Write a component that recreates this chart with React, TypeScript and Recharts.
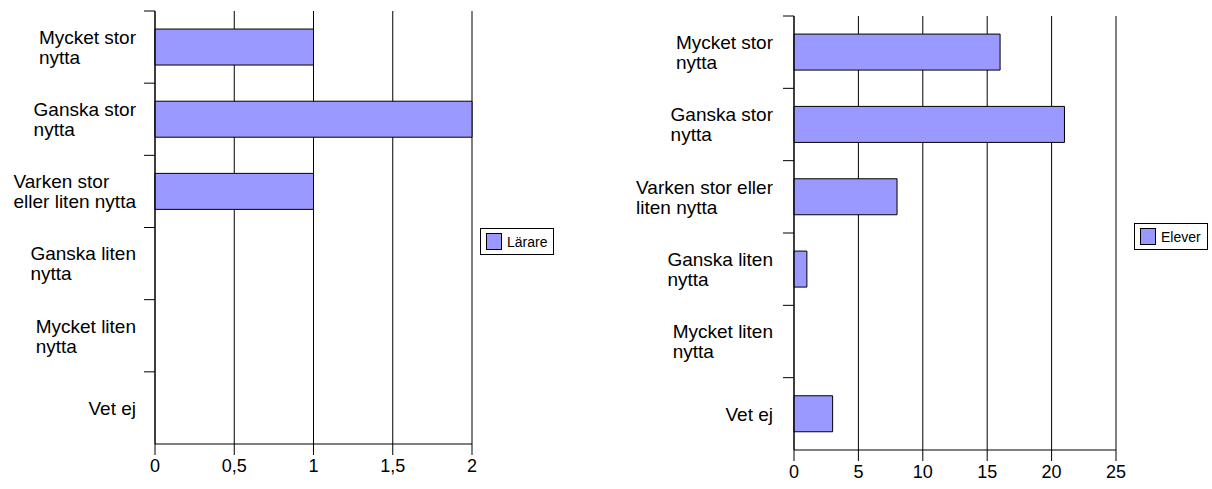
import React from "react";
import { BarChart, Bar, XAxis, YAxis, CartesianGrid, Legend } from "recharts";

const categories = [
  "Mycket stor nytta",
  "Ganska stor nytta",
  "Varken stor eller liten nytta",
  "Ganska liten nytta",
  "Mycket liten nytta",
  "Vet ej",
];

// how each chart wraps the category names
const lararLabels = [
  ["Mycket stor", "nytta"],
  ["Ganska stor", "nytta"],
  ["Varken stor", "eller liten nytta"],
  ["Ganska liten", "nytta"],
  ["Mycket liten", "nytta"],
  ["Vet ej"],
];
const eleverLabels = [
  ["Mycket stor", "nytta"],
  ["Ganska stor", "nytta"],
  ["Varken stor eller", "liten nytta"],
  ["Ganska liten", "nytta"],
  ["Mycket liten", "nytta"],
  ["Vet ej"],
];

const lararValues = [1, 2, 1, 0, 0, 0];
const eleverValues = [16, 21, 8, 1, 0, 3];

const lararTicks = [0, 0.5, 1, 1.5, 2];
const eleverTicks = [0, 5, 10, 15, 20, 25];

const FONT = "'Liberation Sans', Arial, sans-serif";
const LABEL_SIZE = 19;
const BAR_FILL = "#9999ff";

let measureCtx: CanvasRenderingContext2D | null = null;
function textWidth(s: string, size: number) {
  if (!measureCtx) measureCtx = document.createElement("canvas").getContext("2d");
  if (!measureCtx) return s.length * size * 0.5;
  measureCtx.font = `${size}px ${FONT}`;
  return measureCtx.measureText(s).width;
}

// category label: block left-aligned, right edge near the axis; tick line on band top
const makeYTick = (labels: string[][], band: number, gap: number) => (props: any) => {
  const { x, y, payload } = props;
  const lines = labels[payload.index] || [String(payload.value)];
  const widest = Math.max(...lines.map((l) => textWidth(l, LABEL_SIZE)));
  const lineH = 20;
  const capH = LABEL_SIZE * 0.716;
  const first = y - ((lines.length - 1) * lineH) / 2 + capH / 2;
  const tx = x - gap - widest;
  return (
    <g>
      <line x1={x - 11} x2={x} y1={y - band / 2} y2={y - band / 2} stroke="#000" />
      <text fontFamily={FONT} fontSize={LABEL_SIZE} fill="#000" textAnchor="start">
        {lines.map((l, i) => (
          <tspan key={i} x={tx} y={first + i * lineH}>
            {l}
          </tspan>
        ))}
      </text>
    </g>
  );
};

const LegendBox = ({ payload }: any) => {
  const item = payload && payload[0];
  if (!item) return null;
  return (
    <div
      style={{
        display: "flex",
        alignItems: "center",
        border: "1px solid #000",
        padding: "4px 6px 4px 5px",
        background: "#fff",
        fontFamily: FONT,
        fontSize: 14,
        color: "#000",
        whiteSpace: "nowrap",
      }}
    >
      <span
        style={{
          display: "inline-block",
          width: 14,
          height: 15,
          background: BAR_FILL,
          border: "1px solid #000",
          marginRight: 5,
        }}
      />
      {item.value}
    </div>
  );
};

interface ChartProps {
  name: string;
  values: number[];
  labels: string[][];
  ticks: number[];
  top: number;
  right: number;
  yWidth: number;
  xHeight: number;
  labelGap: number;
  legendLeft: number;
  legendTop: number;
}

function SurveyChart(p: ChartProps) {
  const W = 606;
  const H = 489;
  const data = categories.map((c, i) => ({ category: c, value: p.values[i] }));
  const plotH = H - p.top - p.xHeight;
  const band = plotH / categories.length;
  return (
    <BarChart
      width={W}
      height={H}
      data={data}
      layout="vertical"
      margin={{ top: p.top, right: p.right, bottom: 0, left: 0 }}
      barCategoryGap="25%"
    >
      <CartesianGrid horizontal={false} stroke="#000" />
      <XAxis
        type="number"
        domain={[0, p.ticks[p.ticks.length - 1]]}
        ticks={p.ticks}
        interval={0}
        height={p.xHeight}
        tickSize={11}
        tickMargin={4}
        axisLine={{ stroke: "#000" }}
        tickLine={{ stroke: "#000" }}
        tick={{ fontSize: 18, fill: "#000", fontFamily: FONT }}
        tickFormatter={(v: number) => String(v).replace(".", ",")}
      />
      <YAxis
        type="category"
        dataKey="category"
        width={p.yWidth}
        interval={0}
        tickSize={0}
        tickMargin={0}
        tickLine={false}
        axisLine={{ stroke: "#000" }}
        tick={makeYTick(p.labels, band, p.labelGap)}
      />
      <Legend
        layout="vertical"
        align="center"
        verticalAlign="middle"
        content={<LegendBox />}
        wrapperStyle={{ left: p.legendLeft, top: p.legendTop, width: "auto" }}
      />
      <Bar
        dataKey="value"
        name={p.name}
        fill={BAR_FILL}
        stroke="#000"
        strokeWidth={1}
        isAnimationActive={false}
      />
    </BarChart>
  );
}

export default function App() {
  return (
    <div
      style={{
        position: "absolute",
        left: 0,
        top: 0,
        width: 1212,
        height: 489,
        display: "flex",
        background: "#fff",
      }}
    >
      <SurveyChart
        name="Lärare"
        values={lararValues}
        labels={lararLabels}
        ticks={lararTicks}
        top={11}
        right={134}
        yWidth={155}
        xHeight={45}
        labelGap={19}
        legendLeft={480}
        legendTop={228}
      />
      <SurveyChart
        name="Elever"
        values={eleverValues}
        labels={eleverLabels}
        ticks={eleverTicks}
        top={16}
        right={96}
        yWidth={188}
        xHeight={39}
        labelGap={21}
        legendLeft={528}
        legendTop={223}
      />
    </div>
  );
}
